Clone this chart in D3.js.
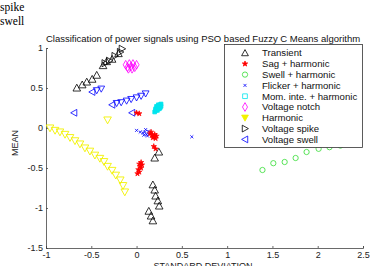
<!DOCTYPE html>
<html>
<head>
<meta charset="utf-8">
<script src="https://cdn.jsdelivr.net/npm/d3@7"></script>
<style>
  body { margin: 0; background: #fff; }
  svg { display: block; }
</style>
</head>
<body>
<div class="grafica"></div>
<script>
// datos (x = desviacion estandar, y = media)
var transientX = [-0.66, -0.60, -0.55, -0.49, -0.44, -0.37, -0.33, -0.27, -0.20, 0.246, 0.20, 0.18, 0.20, 0.21, 0.235, 0.25, 0.135, 0.16, 0.18];
var transientY = [0.50, 0.54, 0.575, 0.61, 0.66, 0.78, 0.83, 0.86, 0.93, -0.30, -0.375, -0.71, -0.775, -0.85, -0.91, -0.975, -1.04, -1.10, -1.16];

var sagX = [0.00, 0.03, 0.15, 0.17, 0.19, 0.21, 0.18, 0.20, 0.16, 0.22, 0.19, 0.21, 0.03, 0.04, 0.05, 0.02, 0.03, 0.05, 0.06, 0.01];
var sagY = [0.19, 0.18, -0.07, -0.09, -0.11, -0.13, -0.12, -0.08, -0.05, -0.10, -0.23, -0.26, -0.45, -0.48, -0.43, -0.52, -0.55, -0.50, -0.46, -0.57];

var swellHX = [1.39, 1.51, 1.635, 1.756, 1.877, 2.01, 2.13, 2.25];
var swellHY = [-0.525, -0.44, -0.425, -0.375, -0.30, -0.26, -0.24, -0.22];

var flickerX = [0.00, 0.04, 0.07, 0.09, 0.11, 0.13, 0.08, 0.12, 0.14, 0.10, 0.61];
var flickerY = [-0.03, -0.05, -0.06, -0.05, -0.08, -0.04, -0.09, -0.10, -0.07, -0.02, -0.11];

var momX = [0.20, 0.21, 0.22, 0.23, 0.24, 0.25, 0.26, 0.27, 0.21, 0.23, 0.25, 0.27, 0.22, 0.24, 0.26];
var momY = [0.20, 0.22, 0.23, 0.25, 0.26, 0.28, 0.29, 0.30, 0.24, 0.22, 0.24, 0.27, 0.27, 0.29, 0.25];

var notchX = [-0.12, -0.10, -0.08, -0.06, -0.04, -0.02, 0.00, -0.09, -0.05];
var notchY = [0.79, 0.76, 0.80, 0.77, 0.80, 0.76, 0.79, 0.74, 0.74];

var harmonicX = [-0.956, -0.90, -0.846, -0.79, -0.735, -0.68, -0.625, -0.57, -0.515, -0.46, -0.405, -0.36, -0.32, -0.27, -0.23, -0.18, -0.15, -0.13, -0.32];
var harmonicY = [0.00, -0.03, -0.05, -0.08, -0.12, -0.16, -0.20, -0.25, -0.29, -0.34, -0.38, -0.42, -0.48, -0.53, -0.59, -0.65, -0.72, -0.80, 0.10];

var spikeX = [-0.35, -0.30, -0.24, -0.18, -0.16];
var spikeY = [0.81, 0.84, 0.90, 0.95, 0.99];

var swellX = [-0.69, -0.05, -0.49, -0.27];
var swellY = [0.19, 0.19, 0.45, 0.29];
// puntos de la misma serie que se ven como triangulos hacia abajo
var swellRowX = [-0.44, -0.39, -0.22, -0.17, -0.11, -0.06, 0.00, 0.05, 0.10];
var swellRowY = [0.47, 0.49, 0.31, 0.32, 0.34, 0.36, 0.38, 0.40, 0.43];

var xTicks = [-1, -0.5, 0, 0.5, 1, 1.5, 2, 2.5];
var yTicks = [-1.5, -1, -0.5, 0, 0.5, 1];
var leyenda = ["Transient", "Sag + harmonic", "Swell + harmonic", "Flicker + harmonic",
  "Mom. inte. + harmonic", "Voltage notch", "Harmonic", "Voltage spike", "Voltage swell"];

function juntar(xs, ys) {
  return xs.map(function(d, i) { return [d, ys[i]]; });
}

function triangulo(dir, s) {
  var p;
  if (dir == "up") p = [[0, -s], [s, s * 0.8], [-s, s * 0.8]];
  if (dir == "down") p = [[0, s], [s, -s * 0.8], [-s, -s * 0.8]];
  if (dir == "right") p = [[s, 0], [-s * 0.8, -s], [-s * 0.8, s]];
  if (dir == "left") p = [[-s, 0], [s * 0.8, -s], [s * 0.8, s]];
  return "M" + p.join("L") + "Z";
}

var w = 371;
var h = 266;

var svg = d3.select(".grafica")
  .append("svg")
  .attr("width", w)
  .attr("height", h);

var x = d3.scaleLinear().domain([-1, 2.5]).range([46, 363]);
var y = d3.scaleLinear().domain([-1.5, 1]).range([248, 48]);

var fuente = "Liberation Sans, Arial, sans-serif";

// ejes
var ejeX = svg.append("g")
  .attr("transform", "translate(0," + y(-1.5) + ")")
  .call(d3.axisBottom(x).tickValues(xTicks).tickSize(-2).tickPadding(4)
    .tickFormat(function(d) { return String(d); }));
var ejeY = svg.append("g")
  .attr("transform", "translate(" + x(-1) + ",0)")
  .call(d3.axisLeft(y).tickValues(yTicks).tickSize(-2).tickPadding(3)
    .tickFormat(function(d) { return String(d); }));

[ejeX, ejeY].forEach(function(g) {
  g.select(".domain").attr("stroke", "#444").attr("stroke-width", 0.8);
  g.selectAll(".tick line").attr("stroke", "#444").attr("stroke-width", 0.8);
  g.selectAll("text").attr("fill", "#222").style("font-family", fuente).style("font-size", "9px");
});

// marcas
var capa = svg.append("g");

function pintar(datos, forma, color, relleno, ancho) {
  capa.selectAll(null)
    .data(datos)
    .enter()
    .append("path")
    .attr("d", forma)
    .attr("transform", function(d) { return "translate(" + x(d[0]) + "," + y(d[1]) + ")"; })
    .attr("fill", relleno)
    .attr("stroke", color)
    .attr("stroke-width", ancho);
}

pintar(juntar(harmonicX, harmonicY), triangulo("down", 3.8), "#f2f200", "none", 0.9);
pintar(juntar(transientX, transientY), triangulo("up", 3.8), "#000", "none", 0.8);
pintar(juntar(spikeX, spikeY), triangulo("right", 3.6), "#000", "none", 0.8);
pintar(juntar(notchX, notchY), d3.symbol(d3.symbolDiamond, 22)(), "#ff00ff", "none", 0.8);
pintar(juntar(momX, momY), d3.symbol(d3.symbolSquare, 14)(), "#00e5ee", "#00e5ee", 0.8);
pintar(juntar(swellX, swellY), triangulo("left", 3.4), "#0000ff", "none", 0.8);
pintar(juntar(swellRowX, swellRowY), triangulo("down", 3.4), "#0000ff", "none", 0.8);
pintar(juntar(flickerX, flickerY), d3.symbol(d3.symbolX, 7)(), "#0000ff", "none", 0.8);
pintar(juntar(sagX, sagY), d3.symbol(d3.symbolStar, 9)(), "#ff0000", "#ff0000", 0.6);
pintar(juntar(swellHX, swellHY), d3.symbol(d3.symbolCircle, 22)(), "#33dd33", "none", 0.8);

// leyenda
var formas = [
  [triangulo("up", 3.4), "#000", "none"],
  [d3.symbol(d3.symbolStar, 9)(), "#ff0000", "#ff0000"],
  [d3.symbol(d3.symbolCircle, 22)(), "#33dd33", "none"],
  [d3.symbol(d3.symbolX, 7)(), "#0000ff", "none"],
  [d3.symbol(d3.symbolSquare, 22)(), "#00e5ee", "none"],
  [d3.symbol(d3.symbolDiamond, 22)(), "#ff00ff", "none"],
  [triangulo("down", 3.4), "#f2f200", "#f2f200"],
  [triangulo("right", 3.4), "#000", "none"],
  [triangulo("left", 3.4), "#0000ff", "none"]
];

var ley = svg.append("g");
ley.append("rect")
  .attr("x", 224.5).attr("y", 44.5)
  .attr("width", 138).attr("height", 103)
  .attr("fill", "#fff").attr("stroke", "#333").attr("stroke-width", 0.8);

ley.selectAll("g.item")
  .data(leyenda)
  .enter()
  .append("g")
  .attr("class", "item")
  .attr("transform", function(d, i) { return "translate(0," + (53 + i * 10.8) + ")"; })
  .each(function(d, i) {
    var g = d3.select(this);
    g.append("path")
      .attr("d", formas[i][0])
      .attr("transform", "translate(245,0)")
      .attr("stroke", formas[i][1])
      .attr("fill", formas[i][2])
      .attr("stroke-width", 0.8);
    g.append("text")
      .attr("x", 262).attr("y", 3.3)
      .style("font-family", fuente).style("font-size", "9.6px")
      .attr("fill", "#111")
      .text(d);
  });

// textos
svg.append("text")
  .attr("x", 203).attr("y", 42)
  .attr("text-anchor", "middle")
  .style("font-family", fuente).style("font-size", "9.5px")
  .attr("fill", "#111")
  .text("Classification of power signals using PSO based Fuzzy C Means algorithm");

svg.append("text")
  .attr("transform", "translate(18,143) rotate(-90)")
  .attr("text-anchor", "middle")
  .style("font-family", fuente).style("font-size", "9px")
  .attr("fill", "#222")
  .text("MEAN");

svg.append("text")
  .attr("x", 203).attr("y", 268.5)
  .attr("text-anchor", "middle")
  .style("font-family", fuente).style("font-size", "9px")
  .attr("fill", "#222")
  .text("STANDARD DEVIATION");

svg.append("text")
  .attr("x", 0).attr("y", 11)
  .style("font-family", "Liberation Serif, Times New Roman, serif").style("font-size", "11.5px")
  .text("spike");
svg.append("text")
  .attr("x", 0).attr("y", 25)
  .style("font-family", "Liberation Serif, Times New Roman, serif").style("font-size", "11.5px")
  .text("swell");
</script>
</body>
</html>
